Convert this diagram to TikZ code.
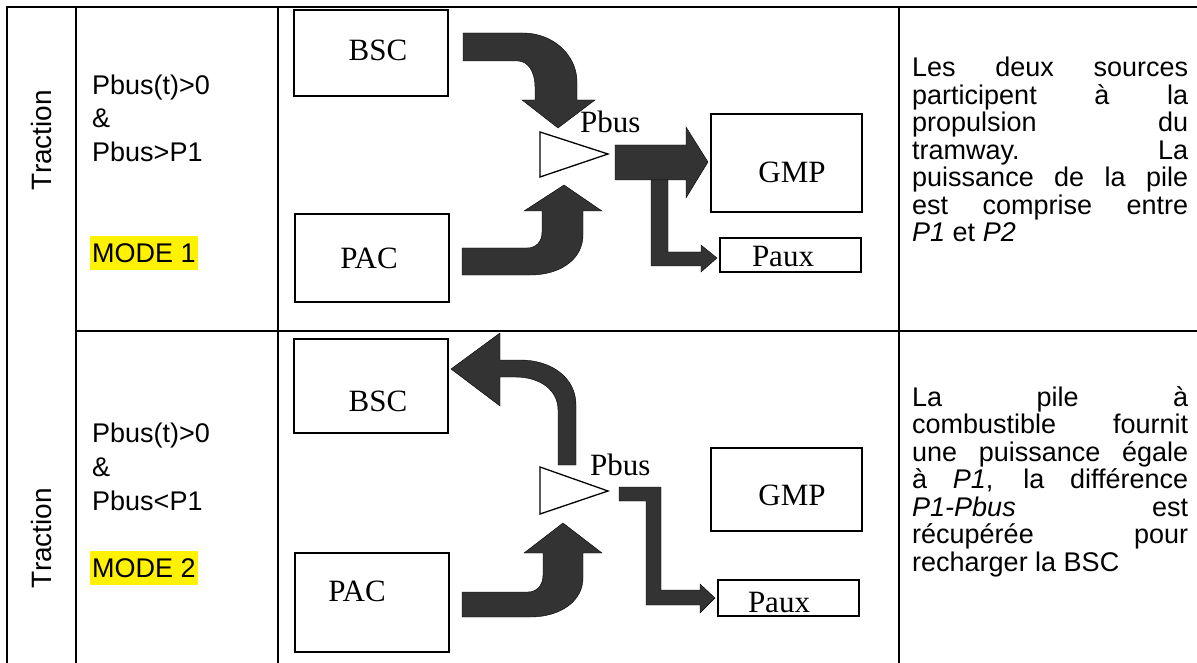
\documentclass[tikz,border=0pt]{standalone}
\usepackage{fontspec}
\setmainfont{Liberation Sans}
\newfontfamily\timesfont{Liberation Serif}
\tikzset{
	cell/.style={line width=2pt},
	blockbox/.style={draw, line width=1.3pt, inner sep=0pt},
	blocklbl/.style={font=\timesfont\fontsize{31}{31}\selectfont, inner sep=0pt},
	condtxt/.style={font=\fontsize{27}{34}\selectfont, inner sep=0pt, anchor=base west},
	hilite/.style={fill=yellow, inner xsep=2pt, inner ysep=2pt, text height=24pt, text depth=6pt, anchor=base west, font=\fontsize{27}{34}\selectfont},
	desc/.style={font=\fontsize{27}{27.5}\selectfont, inner sep=0pt, anchor=base west, text width=276pt, align=justify},
	fatarrow/.style={fill=black!80},
	sumtri/.style={draw, line width=1.3pt, fill=white}
}

\begin{document}
\begin{tikzpicture}[x=1pt,y=-1pt]
		\useasboundingbox (0,0) rectangle (1197,663);
		%%%%% TABLE %%%%%
		\draw[cell] (6,7.5) -- (1197,7.5);
		\draw[cell] (7,7.5) -- (7,663);
		\draw[cell] (76,7.5) -- (76,663);
		\draw[cell] (278,7.5) -- (278,663);
		\draw[cell] (899,7.5) -- (899,663);
		\draw[cell] (76,331) -- (1197,331);
		
		%%%%% ROW 1 %%%%%
		\node[rotate=90, font=\fontsize{28}{28}\selectfont, inner sep=0pt] (tracA) at (41,140) {Traction};
		\node[condtxt] (condA1) at (92,95) {Pbus(t)>0};
		\node[condtxt] (condA2) at (92,128) {\&};
		\node[condtxt] (condA3) at (92,162) {Pbus>P1};
		\node[hilite] (modeA) at (90,262) {MODE 1};
		
		\node[blockbox, minimum width=154pt, minimum height=86pt] (bscA) at (371,53) {};
		\node[blocklbl] (bscAlbl) at (378,50) {BSC};
		\node[blockbox, minimum width=154pt, minimum height=88pt] (pacA) at (372,258) {};
		\node[blocklbl] (pacAlbl) at (369,258) {PAC};
		\node[blockbox, minimum width=151pt, minimum height=98pt] (gmpA) at (786.5,163) {};
		\node[blocklbl] (gmpAlbl) at (792,172) {GMP};
		\node[blockbox, minimum width=141pt, minimum height=34pt] (pauxA) at (790.5,255) {};
		\node[blocklbl] (pauxAlbl) at (783,257) {Paux};
		
		\draw[fatarrow] (463,33) -- (523,33) .. controls (553,33) and (577,55) .. (577,82) -- (577,100) -- (595,100) -- (558,128) -- (522,100) -- (535,100) -- (535,87) .. controls (535,72) and (528,61) .. (518,61) -- (463,61) -- cycle;
		\draw[fatarrow] (462,275) -- (530,275) .. controls (562,275) and (583,258) .. (583,235) -- (583,211) -- (602,211) -- (564,185) -- (524,211) -- (542,211) -- (542,232) .. controls (542,242) and (536,248) .. (527,248) -- (462,248) -- cycle;
		\draw[fatarrow] (615,145) -- (686,145) -- (686,127) -- (708,162) -- (686,198) -- (686,180) -- (615,180) -- cycle;
		\draw[fatarrow] (651,180) -- (668,180) -- (668,252) -- (701,252) -- (701,245) -- (717,258) -- (701,272) -- (701,266) -- (651,266) -- cycle;
		\draw[sumtri] (540,132) -- (540,177) -- (608,154) -- cycle;
		\node[blocklbl, anchor=base west] (pbusA) at (580,133) {Pbus};
		
		\node[desc] (descA) at (912,77) {Les deux sources\linebreak participent à la\linebreak propulsion du\linebreak tramway. La\linebreak puissance de la pile\linebreak est comprise entre\linebreak \textit{P1} et \textit{P2}};
		
		%%%%% ROW 2 %%%%%
		\node[rotate=90, font=\fontsize{28}{28}\selectfont, inner sep=0pt] (tracB) at (41,538) {Traction};
		\node[condtxt] (condB1) at (92,442) {Pbus(t)>0};
		\node[condtxt] (condB2) at (92,476) {\&};
		\node[condtxt] (condB3) at (92,510) {Pbus<P1};
		\node[hilite] (modeB) at (90,577) {MODE 2};
		
		\node[blockbox, minimum width=154pt, minimum height=94pt] (bscB) at (371,386) {};
		\node[blocklbl] (bscBlbl) at (378,401) {BSC};
		\node[blockbox, minimum width=154pt, minimum height=99pt] (pacB) at (372,602.5) {};
		\node[blocklbl] (pacBlbl) at (357,591) {PAC};
		\node[blockbox, minimum width=151pt, minimum height=83pt] (gmpB) at (786.5,489.5) {};
		\node[blocklbl] (gmpBlbl) at (792,495) {GMP};
		\node[blockbox, minimum width=141pt, minimum height=36pt] (pauxB) at (788.5,598) {};
		\node[blocklbl] (pauxBlbl) at (779,602) {Paux};
		
		\draw[fatarrow] (576,465) -- (576,405) .. controls (576,378) and (552,360) .. (520,360) -- (500,360) -- (500,333) -- (451,369) -- (500,406) -- (500,377) -- (515,377) .. controls (540,377) and (558,390) .. (558,410) -- (558,465) -- cycle;
		\draw[fatarrow] (462,617) -- (530,617) .. controls (562,617) and (583,600) .. (583,578) -- (583,553) -- (602,553) -- (563,523) -- (524,553) -- (543,553) -- (543,575) .. controls (543,585) and (537,592) .. (528,592) -- (462,592) -- cycle;
		\draw[fatarrow] (619,487) -- (661,487) -- (661,590) -- (700,590) -- (700,584) -- (715,598) -- (700,613) -- (700,605) -- (646,605) -- (646,501) -- (619,501) -- cycle;
		\draw[sumtri] (540,467) -- (540,514) -- (608,491) -- cycle;
		\node[blocklbl, anchor=base west] (pbusB) at (590,475) {Pbus};
		
		\node[desc] (descB) at (912,406) {La pile à\linebreak combustible fournit\linebreak une puissance égale\linebreak à \textit{P1}, la différence\linebreak \textit{P1-Pbus} est\linebreak récupérée pour\linebreak recharger la BSC};
		%%%%% END %%%%%
	\end{tikzpicture}
\end{document}
